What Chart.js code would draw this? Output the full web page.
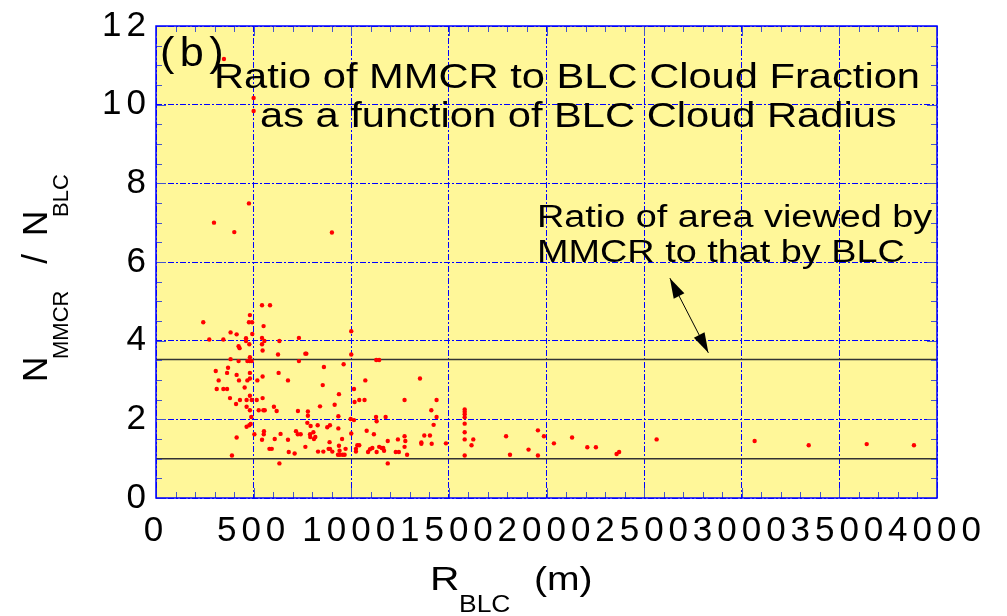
<!DOCTYPE html>
<html lang="en">
<head>
<meta charset="UTF-8">
<title>Ratio of MMCR to BLC Cloud Fraction</title>
<script src="https://cdn.jsdelivr.net/npm/chart.js"></script>
<style>
  html, body { margin: 0; padding: 0; background: #ffffff; }
  #wrap { width: 1007px; height: 616px; }
</style>
</head>
<body>
<div id="wrap"><canvas id="chartCanvas" width="1007" height="616"></canvas></div>

<script>
// BLC cloud radius (m) for each cloud
var radius = [
  348, 500, 500,
  476, 297, 401, 901,
  543, 584, 481, 242, 476, 492, 551,
  382, 413, 493, 273, 345, 461, 461, 543, 555, 632, 732,
  543, 478, 423, 428, 546, 765, 770, 625, 481, 382,
  423, 468, 480, 490, 732, 961, 860, 369, 306, 364, 481, 628,
  413, 546, 481, 321, 425, 468, 519, 676, 854, 454, 311, 345, 364,
  937, 481, 379, 546, 430, 464, 490, 516, 410, 915, 840, 604, 464,
  481, 526, 550, 557, 618, 727, 778, 778, 934, 488,
  775, 485, 478, 464, 792, 828, 877, 891, 934,
  717, 553, 552, 504, 638, 726, 741, 806, 789, 790, 816, 809,
  413, 608, 676, 543, 889, 953,
  765, 937, 971, 581, 593, 884, 891, 940,
  680, 830, 857, 903, 710, 932, 942, 956, 966, 389, 632,
  1000, 1000, 1128, 1143, 1072, 1352, 1014, 1041, 1068, 1273, 1437, 1017,
  1410, 1581, 1581, 1581, 1581, 1127, 1176, 1437, 997, 1014, 1130, 1581, 1422,
  1079, 1581, 1000, 1116, 1374, 1403, 1273, 1793,
  1239, 1277, 1581, 1625, 1187, 1359, 1359, 1412, 1485,
  1031, 1041, 1273, 1616, 1108, 1143, 1156, 1164, 1096,
  1024, 1024, 1086, 1130, 1168, 1228, 1244, 1286, 1581, 1813, 1187, 1908,
  1956, 1987, 1956, 2038, 2131, 2209, 2253, 2359, 2372, 2564, 3066, 3343, 3640, 3882
];

// N_MMCR / N_BLC for the same clouds
var ratio = [
  11.16, 10.17, 9.84,
  7.49, 7.00, 6.76, 6.75,
  4.90, 4.90, 4.65, 4.47, 4.47, 4.47, 4.37,
  4.21, 4.16, 4.17, 4.03, 4.03, 4.06, 3.99, 4.07, 3.99, 3.99, 4.07,
  3.91, 3.91, 3.86, 3.81, 3.75, 3.67, 3.67, 3.65, 3.58, 3.53,
  3.48, 3.48, 3.48, 3.48, 3.48, 3.40, 3.33, 3.31, 3.23, 3.18, 3.18, 3.18,
  3.13, 3.09, 3.04, 2.99, 2.99, 2.99, 2.99, 2.99, 2.87, 2.81, 2.77, 2.77, 2.77,
  2.64, 2.60, 2.54, 2.54, 2.49, 2.49, 2.49, 2.49, 2.39, 2.37, 2.33, 2.32, 2.32,
  2.23, 2.23, 2.23, 2.23, 2.21, 2.21, 2.20, 2.09, 2.08, 2.06,
  1.91, 1.88, 1.85, 1.81, 1.83, 1.85, 1.80, 1.85, 1.77,
  1.70, 1.70, 1.62, 1.62, 1.63, 1.62, 1.62, 1.67, 1.62, 1.55, 1.55, 1.50,
  1.54, 1.50, 1.48, 1.48, 1.42, 1.50,
  1.30, 1.33, 1.25, 1.25, 1.25, 1.25, 1.25, 1.20,
  1.17, 1.18, 1.18, 1.18, 1.13, 1.10, 1.10, 1.10, 1.10, 1.08, 0.88,
  4.24, 3.65, 3.51, 3.51, 2.99, 3.04, 2.77, 2.49, 2.49, 2.49, 2.49, 2.44,
  2.23, 2.25, 2.19, 2.13, 2.05, 2.06, 2.06, 2.06, 2.01, 1.98, 1.95, 1.89, 1.86,
  1.71, 1.67, 1.64, 1.62, 1.59, 1.59, 1.57, 1.57,
  1.49, 1.45, 1.49, 1.49, 1.45, 1.41, 1.38, 1.38, 1.39,
  1.34, 1.34, 1.30, 1.34, 1.27, 1.30, 1.27, 1.27, 1.24,
  1.25, 1.18, 1.17, 1.17, 1.20, 1.17, 1.17, 1.10, 1.08, 1.10, 0.88, 1.23,
  1.72, 1.57, 1.08, 1.39, 1.54, 1.29, 1.29, 1.12, 1.17, 1.49, 1.45, 1.34, 1.37, 1.34
];

var xTicks = [0, 500, 1000, 1500, 2000, 2500, 3000, 3500, 4000];
var yTicks = [0, 2, 4, 6, 8, 10, 12];

// horizontal reference levels of the area ratio
var refLevels = [1.0, 3.52];

// double arrow pointing at the upper reference level, in data units
var arrowFrom = { x: 2632, y: 5.59 };
var arrowTo = { x: 2829, y: 3.69 };

var FONT = '"Liberation Sans", Arial, Helvetica, sans-serif';
var PLOT_BG = '#fff799';
var BLUE = '#0000ff';
var TICK_COLOR = '#4455cc';

var points = [];
for (var i = 0; i < radius.length; i++) {
    points.push({ x: radius[i], y: ratio[i] });
}

function refLine(level) {
    return {
        type: 'line',
        data: [{ x: xTicks[0], y: level }, { x: xTicks[xTicks.length - 1], y: level }],
        borderColor: '#333333',
        borderWidth: 1.5,
        pointRadius: 0,
        showLine: true,
        fill: false
    };
}

function stretchedText(ctx, text, x, y, size, sx) {
    ctx.save();
    ctx.translate(x, y);
    ctx.scale(sx, 1);
    ctx.font = size + 'px ' + FONT;
    ctx.fillStyle = '#000000';
    ctx.textAlign = 'left';
    ctx.textBaseline = 'alphabetic';
    ctx.fillText(text, 0, 0);
    ctx.restore();
}

function arrowHead(ctx, fx, fy, tx, ty, len, half) {
    var ang = Math.atan2(ty - fy, tx - fx);
    var bx = tx - len * Math.cos(ang);
    var by = ty - len * Math.sin(ang);
    ctx.beginPath();
    ctx.moveTo(tx, ty);
    ctx.lineTo(bx + half * Math.sin(ang), by - half * Math.cos(ang));
    ctx.lineTo(bx - half * Math.sin(ang), by + half * Math.cos(ang));
    ctx.closePath();
    ctx.fill();
}

var decor = {
    id: 'decor',
    beforeDraw: function (chart) {
        var ctx = chart.ctx, a = chart.chartArea;
        ctx.save();
        ctx.fillStyle = PLOT_BG;
        ctx.fillRect(a.left, a.top, a.right - a.left, a.bottom - a.top);
        ctx.restore();
        // spaced digits on the axes
        ctx.letterSpacing = '5px';
    },
    beforeDatasetsDraw: function (chart) {
        chart.ctx.letterSpacing = '0px';
    },
    afterDraw: function (chart) {
        var ctx = chart.ctx, a = chart.chartArea;
        var xs = chart.scales.x, ys = chart.scales.y;
        ctx.save();
        ctx.letterSpacing = '0px';

        // inward ticks on all four sides
        ctx.strokeStyle = TICK_COLOR;
        ctx.lineWidth = 1;
        ctx.beginPath();
        for (var v = 0; v <= 4000; v += 100) {
            var px = Math.round(xs.getPixelForValue(v)) + 0.5;
            var len = v % 500 === 0 ? 10 : 6;
            ctx.moveTo(px, a.bottom); ctx.lineTo(px, a.bottom - len);
            ctx.moveTo(px, a.top); ctx.lineTo(px, a.top + len);
        }
        for (var k = 0; k <= 24; k++) {
            var py = Math.round(ys.getPixelForValue(k * 0.5)) + 0.5;
            var l2 = k % 4 === 0 ? 10 : 6;
            ctx.moveTo(a.left, py); ctx.lineTo(a.left + l2, py);
            ctx.moveTo(a.right, py); ctx.lineTo(a.right - l2, py);
        }
        ctx.stroke();

        // plot frame
        ctx.strokeStyle = BLUE;
        ctx.lineWidth = 1.5;
        ctx.strokeRect(a.left, a.top, a.right - a.left, a.bottom - a.top);

        // panel letter and titles
        ctx.letterSpacing = '5px';
        stretchedText(ctx, '(b)', 160, 66, 40, 1.08);
        ctx.letterSpacing = '0px';
        stretchedText(ctx, 'Ratio of MMCR to BLC Cloud Fraction', 214, 88, 35, 1.19);
        stretchedText(ctx, 'as a function of BLC Cloud Radius', 260, 127, 35, 1.19);
        stretchedText(ctx, 'Ratio of area viewed by', 537, 227, 31, 1.22);
        stretchedText(ctx, 'MMCR to that by BLC', 537, 262, 31, 1.22);

        // double arrow
        var x1 = xs.getPixelForValue(arrowFrom.x), y1 = ys.getPixelForValue(arrowFrom.y);
        var x2 = xs.getPixelForValue(arrowTo.x), y2 = ys.getPixelForValue(arrowTo.y);
        ctx.strokeStyle = '#000000';
        ctx.fillStyle = '#000000';
        ctx.lineWidth = 1;
        ctx.beginPath();
        ctx.moveTo(x1, y1);
        ctx.lineTo(x2, y2);
        ctx.stroke();
        arrowHead(ctx, x2, y2, x1, y1, 20, 6);
        arrowHead(ctx, x1, y1, x2, y2, 20, 6);

        // x axis title: R_BLC (m)
        stretchedText(ctx, 'R', 430, 590, 34, 1.2);
        stretchedText(ctx, 'BLC', 459, 612, 23, 1.15);
        stretchedText(ctx, '(m)', 534, 590, 34, 1.15);

        // y axis title: N_MMCR / N_BLC, reading upwards
        ctx.translate(47, 380);
        ctx.rotate(-Math.PI / 2);
        ctx.fillStyle = '#000000';
        ctx.textBaseline = 'alphabetic';
        ctx.textAlign = 'left';
        ctx.font = '35px ' + FONT;
        ctx.fillText('N', -2, 0);
        ctx.font = '22px ' + FONT;
        ctx.fillText('MMCR', 21, 21);
        ctx.font = '35px ' + FONT;
        ctx.textAlign = 'center';
        ctx.fillText('/', 121, 0);
        ctx.textAlign = 'left';
        ctx.fillText('N', 144, 0);
        ctx.font = '22px ' + FONT;
        ctx.fillText('BLC', 163, 21);

        ctx.restore();
    }
};

var config = {
    type: 'scatter',
    data: {
        datasets: [
            {
                data: points,
                backgroundColor: '#ff0000',
                borderColor: '#ff0000',
                borderWidth: 0,
                pointRadius: 2.2,
                pointHoverRadius: 2.2
            },
            refLine(refLevels[0]),
            refLine(refLevels[1])
        ]
    },
    options: {
        responsive: false,
        animation: false,
        events: [],
        layout: { padding: { left: 0, right: 70, top: 25, bottom: 0 } },
        plugins: {
            legend: { display: false },
            tooltip: { enabled: false },
            title: { display: false }
        },
        scales: {
            x: {
                type: 'linear',
                min: xTicks[0],
                max: xTicks[xTicks.length - 1],
                afterBuildTicks: function (s) {
                    s.ticks = xTicks.map(function (v) { return { value: v }; });
                },
                afterFit: function (s) { s.height = 118; },
                ticks: {
                    autoSkip: false,
                    maxRotation: 0,
                    padding: 12,
                    color: '#000000',
                    font: { family: FONT, size: 35 },
                    callback: function (value) { return String(value); }
                },
                grid: { color: BLUE, lineWidth: 1, drawTicks: false },
                border: { display: false, dash: [6, 2, 2, 2] }
            },
            y: {
                type: 'linear',
                min: yTicks[0],
                max: yTicks[yTicks.length - 1],
                afterBuildTicks: function (s) {
                    s.ticks = yTicks.map(function (v) { return { value: v }; });
                },
                afterFit: function (s) { s.width = 156; },
                ticks: {
                    padding: 5,
                    color: '#000000',
                    font: { family: FONT, size: 35 },
                    callback: function (value) { return String(value); }
                },
                grid: { color: BLUE, lineWidth: 1, drawTicks: false },
                border: { display: false, dash: [6, 2, 2, 2] }
            }
        }
    },
    plugins: [decor]
};

var ctx = document.getElementById('chartCanvas').getContext('2d');
var myChart = new Chart(ctx, config);
</script>
</body>
</html>
